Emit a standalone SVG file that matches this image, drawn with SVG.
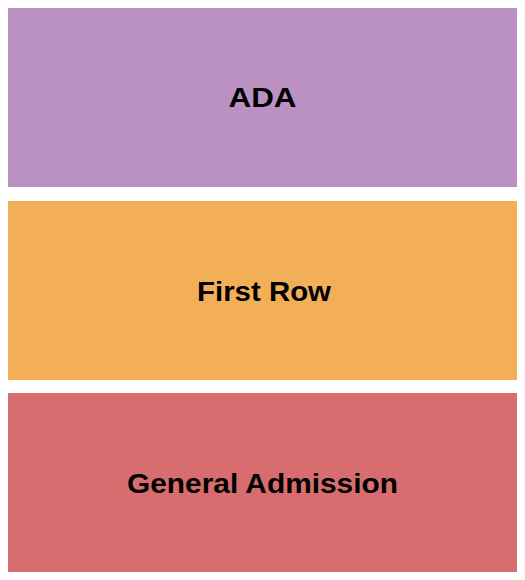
<svg xmlns="http://www.w3.org/2000/svg" width="525" height="580" viewBox="0 0 525 580">
<style>
.lbl{font-family:"Liberation Sans",Arial,sans-serif;font-weight:bold;font-size:28px;fill:#000;text-anchor:middle}
</style>
<rect width="525" height="580" fill="#fff"/>
<g id="ada">
<rect x="8" y="8" width="509" height="179" fill="#BB90C3"/>
<text class="lbl" x="262.5" y="107.3" textLength="68" lengthAdjust="spacingAndGlyphs">ADA</text>
</g>
<g id="first-row">
<rect x="8" y="201" width="509" height="179" fill="#F3AE58"/>
<text class="lbl" x="264" y="301" textLength="134" lengthAdjust="spacingAndGlyphs">First Row</text>
</g>
<g id="general-admission">
<rect x="8" y="393" width="509" height="179" fill="#D76D6E"/>
<text class="lbl" x="262.5" y="493" textLength="271" lengthAdjust="spacingAndGlyphs">General Admission</text>
</g>
<g id="connectors"></g>
</svg>
